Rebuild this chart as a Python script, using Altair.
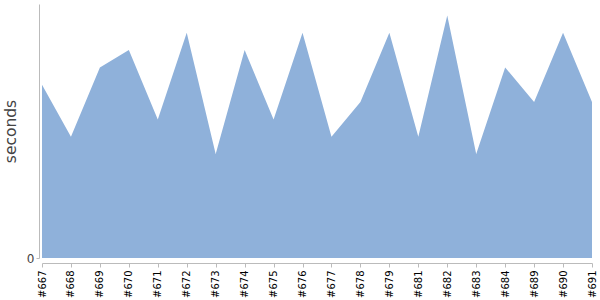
import altair as alt
import pandas as pd

builds = ["#667", "#668", "#669", "#670", "#671", "#672", "#673", "#674", "#675", "#676",
          "#677", "#678", "#679", "#681", "#682", "#683", "#684", "#689", "#690", "#691"]
seconds = [10, 7, 11, 12, 8, 13, 6, 12, 8, 13, 7, 9, 13, 7, 14, 6, 11, 9, 13, 9]

df = pd.DataFrame({"build": builds, "seconds": seconds})

chart = alt.Chart(df).mark_area(color="#8fb1da", opacity=1).encode(
    x=alt.X("build:N", sort=builds, title=None,
            scale=alt.Scale(type="point", padding=0),
            axis=alt.Axis(labelAngle=-90, offset=5, labelFont="DejaVu Sans", labelFontSize=10,
                          labelColor="#000", domainColor="#bbb", tickColor="#bbb", tickSize=4,
                          labelPadding=3)),
    y=alt.Y("seconds:Q", title="seconds",
            scale=alt.Scale(domain=[0, 14.66], nice=False, zero=True),
            axis=alt.Axis(values=[0], offset=3, grid=False, labelFont="DejaVu Sans", labelFontSize=12,
                          labelColor="#444", domainColor="#bbb", tickColor="#bbb", tickSize=3,
                          titleFont="DejaVu Sans", titleFontSize=15.5, titleFontWeight="normal",
                          titleColor="#444", titlePadding=8)),
).properties(
    width=550, height=254,
    autosize=alt.AutoSizeParams(type="none"),
    padding={"left": 42, "top": 4, "right": 8, "bottom": 42},
).configure_view(stroke=None)

chart.save("out.html", embed_options={"renderer": "svg", "actions": False})
